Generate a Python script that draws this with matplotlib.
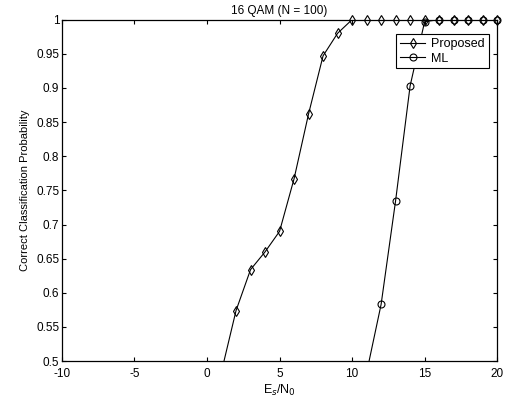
import matplotlib
matplotlib.use("Agg")
import matplotlib.pyplot as plt
import numpy as np

plt.rcParams['font.family'] = ['Liberation Sans', 'DejaVu Sans']
plt.rcParams['axes.unicode_minus'] = False

# Es/N0 values and classification probabilities
snr_proposed = [1, 2, 3, 4, 5, 6, 7, 8, 9, 10, 11, 12, 13, 14, 15, 16, 17, 18, 19, 20]
p_proposed = [0.485, 0.574, 0.634, 0.66, 0.69, 0.767, 0.862, 0.947, 0.98, 1.0,
              1.0, 1.0, 1.0, 1.0, 1.0, 1.0, 1.0, 1.0, 1.0, 1.0]

snr_ml = [11, 12, 13, 14, 15, 16, 17, 18, 19, 20]
p_ml = [0.483, 0.583, 0.735, 0.903, 0.997, 1.0, 1.0, 1.0, 1.0, 1.0]

xticks = [-10, -5, 0, 5, 10, 15, 20]
yticks = [0.5, 0.55, 0.6, 0.65, 0.7, 0.75, 0.8, 0.85, 0.9, 0.95, 1]
ytick_labels = ['0.5', '0.55', '0.6', '0.65', '0.7', '0.75', '0.8', '0.85', '0.9', '0.95', '1']

fig = plt.figure(figsize=(5.12, 4.09), dpi=100)
ax = fig.add_axes([0.121, 0.117, 0.85, 0.835])

def draw(x, y, marker, label):
    x = np.array(x)
    y = np.array(y)
    # line is clipped to the axes
    ax.plot(x, y, '-', color='black', lw=0.8)
    # markers inside the range are drawn fully, even on the top edge
    keep = y >= 0.5
    ax.plot(x[keep], y[keep], marker, color='black', ms=5, mfc='none',
            mew=0.8, clip_on=False, zorder=3)
    # proxy for the legend
    ax.plot([], [], '-' + marker, color='black', lw=0.8, ms=5, mfc='none',
            mew=0.8, label=label)

draw(snr_proposed, p_proposed, 'd', 'Proposed')
draw(snr_ml, p_ml, 'o', 'ML')

ax.set_xlim(-10, 20)
ax.set_ylim(0.5, 1)
ax.set_xticks(xticks)
ax.set_yticks(yticks)
ax.set_yticklabels(ytick_labels)
ax.tick_params(direction='in', top=True, right=True, labelsize=8.5, length=3)
ax.tick_params(axis='x', pad=5)
ax.tick_params(axis='y', pad=2)
for s in ax.spines.values():
    s.set_linewidth(0.9)

ax.set_title('16 QAM (N = 100)', fontsize=8.5, pad=4)
ax.set_xlabel('E$_s$/N$_0$', fontsize=9, labelpad=2)
ax.set_ylabel('Correct Classification Probability', fontsize=8, labelpad=4)

leg = ax.legend(loc='upper right', bbox_to_anchor=(0.995, 0.975), fontsize=9,
                frameon=True, fancybox=False, edgecolor='black', framealpha=1,
                handlelength=2.0, borderpad=0.3, labelspacing=0.2, handletextpad=0.5)
leg.get_frame().set_linewidth(0.8)

fig.savefig('out.png', dpi=100)
